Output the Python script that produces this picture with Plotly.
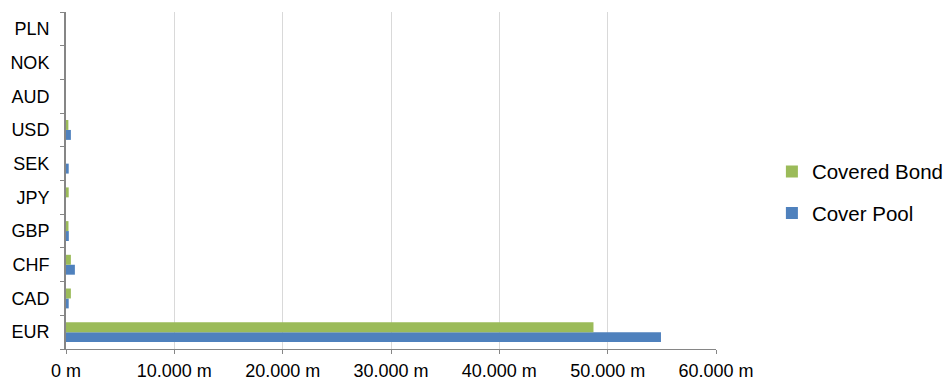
import plotly.graph_objects as go

# Currency breakdown (values in millions)
currencies = ["EUR", "CAD", "CHF", "GBP", "JPY", "SEK", "USD", "AUD", "NOK", "PLN"]
cover_pool = [54920, 250, 820, 260, 0, 250, 450, 0, 0, 0]
covered_bond = [48690, 450, 450, 230, 250, 0, 220, 0, 0, 0]

x_tick_vals = [0, 10000, 20000, 30000, 40000, 50000, 60000]
x_tick_text = ["0 m", "10.000 m", "20.000 m", "30.000 m", "40.000 m", "50.000 m", "60.000 m"]

GREEN = "#9BBB59"
BLUE = "#4F81BD"
AXIS = "#868686"
FONT = "Liberation Sans, Arial, sans-serif"

fig = go.Figure()
fig.add_trace(go.Bar(
    y=currencies, x=cover_pool, orientation="h", name="Cover Pool",
    marker=dict(color=BLUE, line=dict(width=0)),
    legendgroup="pool", legendrank=2,
))
fig.add_trace(go.Bar(
    y=currencies, x=covered_bond, orientation="h", name="Covered Bond",
    marker=dict(color=GREEN, line=dict(width=0)),
    legendgroup="bond", legendrank=1,
))

fig.update_layout(
    width=950, height=380,
    margin=dict(l=66, r=234, t=12, b=31, autoexpand=False),
    paper_bgcolor="white", plot_bgcolor="white",
    barmode="group", bargap=0.41, bargroupgap=0,
    font=dict(family=FONT, size=18, color="#000000"),
    legend=dict(
        x=1.086, xanchor="left", y=0.464, yanchor="middle",
        xref="paper", yref="paper",
        traceorder="grouped", tracegroupgap=12,
        font=dict(size=20.5, family=FONT, color="#000000"),
        itemwidth=30, bgcolor="rgba(0,0,0,0)",
    ),
    xaxis=dict(
        range=[0, 60000], tickvals=x_tick_vals, ticktext=x_tick_text,
        showgrid=True, gridcolor="#D9D9D9", gridwidth=1,
        showline=True, linecolor=AXIS, linewidth=1,
        ticks="outside", ticklen=4, tickcolor=AXIS,
        zeroline=False, tickfont=dict(size=18),
        automargin=False, ticklabelstandoff=1,
    ),
    yaxis=dict(
        categoryorder="array", categoryarray=currencies,
        showline=True, linecolor=AXIS, linewidth=2,
        ticks="outside", ticklen=4, tickcolor=AXIS, tickson="boundaries",
        showgrid=False, zeroline=False, tickfont=dict(size=18),
        ticklabelstandoff=11, automargin=False,
    ),
)

fig.write_html("out.html")
